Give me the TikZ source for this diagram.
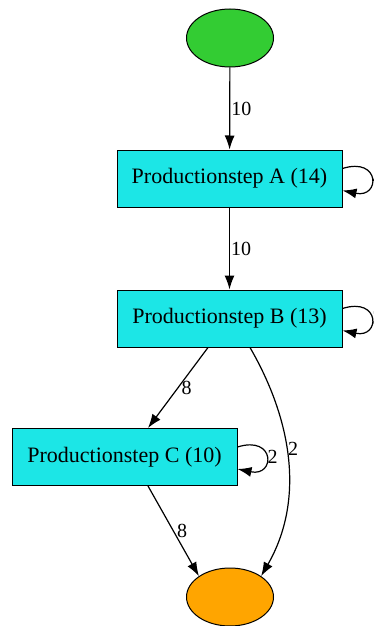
\documentclass[tikz,border=0pt]{standalone}
\usepackage{fontspec}
\setmainfont{Liberation Serif}
\usetikzlibrary{arrows.meta,shapes.geometric}
\definecolor{startgreen}{HTML}{33CC33}
\definecolor{endorange}{HTML}{FFA500}
\definecolor{stepcyan}{HTML}{1CE6E6}
\tikzset{
  stepbox/.style={draw,line width=1pt,fill=stepcyan,minimum width=225pt,minimum height=57pt,font=\fontsize{22}{26}\selectfont},
  terminal/.style={draw,line width=1pt,ellipse,minimum width=87pt,minimum height=58pt},
  arr/.style={-{Latex[length=14pt,width=10pt]},line width=1.2pt},
  lbl/.style={font=\fontsize{20}{24}\selectfont,inner sep=1pt}
}
\begin{document}
\begin{tikzpicture}[x=1pt,y=-1pt]
        \useasboundingbox (0,0) rectangle (374,626);

        % noeuds de depart et de fin
        \draw (230,38) node[terminal,fill=startgreen] (start) {};
        \draw (230,597) node[terminal,fill=endorange] (end) {};

        % etapes de production
        \draw (229.5,178.5) node[stepbox] (stepA) {Productionstep A (14)};
        \draw (229.5,318.5) node[stepbox] (stepB) {Productionstep B (13)};
        \draw (124.5,457) node[stepbox] (stepC) {Productionstep C (10)};

        % liens entre les etapes
        \draw[arr] (start) -- node[lbl,right] {10} (stepA);
        \draw[arr] (stepA) -- node[lbl,right] {10} (stepB);
        \draw[arr] (stepB.south -| 208,0) -- node[lbl,right=2pt] {8} (stepC.north -| 148,0);
        \draw[arr] (stepC.south -| 148,0) -- node[lbl,right=2pt] {8} (end.north west);
        \draw[arr] (stepB.south -| 250,0)
        .. controls (292,420) and (305,500) ..
        node[lbl,pos=0.45,right] {2} (end.north east);

        % boucles sur chaque etape
        \draw[arr] ([yshift=10pt]stepA.east)
        .. controls +(38,-12) and +(38,8) ..
        node[lbl,right,pos=0.5] {4} ([yshift=-12pt]stepA.east);
        \draw[arr] ([yshift=10pt]stepB.east)
        .. controls +(38,-12) and +(38,8) ..
        node[lbl,right,pos=0.5] {3} ([yshift=-12pt]stepB.east);
        \draw[arr] ([yshift=10pt]stepC.east)
        .. controls +(38,-12) and +(38,8) ..
        node[lbl,right,pos=0.5] {2} ([yshift=-12pt]stepC.east);
\end{tikzpicture}
\end{document}
